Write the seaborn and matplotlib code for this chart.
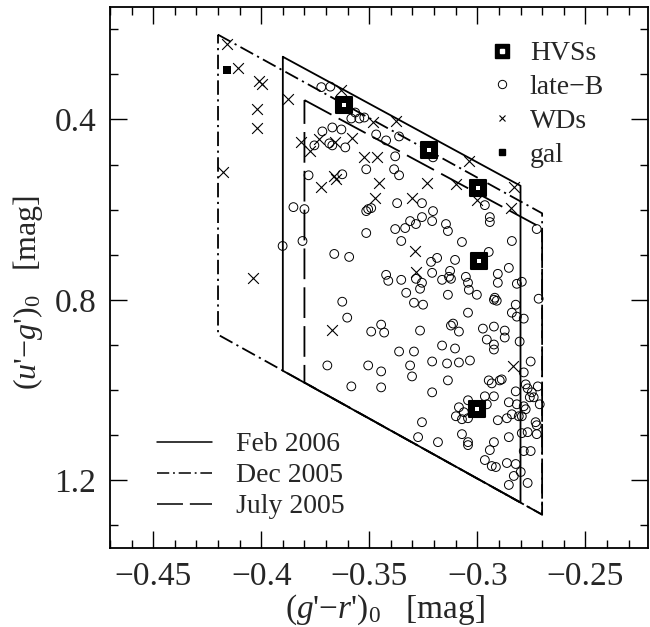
import matplotlib

matplotlib.use("Agg")
import matplotlib.pyplot as plt
import seaborn as sns
from matplotlib.lines import Line2D
from matplotlib.ticker import FixedLocator, MultipleLocator

# late-B candidates: (g'-r')0 and (u'-g')0
lateb_gr = [
    -0.3722, -0.3680, -0.3583, -0.3565, -0.3546, -0.3523, -0.3717, -0.3671, -0.3629, -0.3754,
    -0.3685, -0.3671, -0.3611, -0.3468, -0.3422, -0.3362, -0.3380, -0.3514, -0.3385, -0.3362,
    -0.3781, -0.3625, -0.3205, -0.3851, -0.3800, -0.3514, -0.3505, -0.3491, -0.3371, -0.3514,
    -0.3380, -0.3334, -0.3311, -0.3284, -0.3352, -0.3901, -0.3809, -0.3662, -0.3593, -0.3422,
    -0.3412, -0.3352, -0.3329, -0.3256, -0.3205, -0.3256, -0.3209, -0.3145, -0.3136, -0.2942,
    -0.2942, -0.2965, -0.3071, -0.2840, -0.2725, -0.3214, -0.3186, -0.3103, -0.2947, -0.2854,
    -0.3284, -0.3256, -0.3265, -0.3209, -0.3163, -0.3131, -0.3126, -0.3122, -0.3053, -0.3043,
    -0.3039, -0.3002, -0.3136, -0.2905, -0.2905, -0.2817, -0.2794, -0.2919, -0.2716, -0.3625,
    -0.3602, -0.3491, -0.3445, -0.3431, -0.3293, -0.3251, -0.3043, -0.2923, -0.2910, -0.2822,
    -0.2840, -0.2817, -0.2785, -0.3694, -0.3505, -0.3445, -0.3583, -0.3445, -0.3362, -0.3293,
    -0.3311, -0.3302, -0.3265, -0.3122, -0.3112, -0.3085, -0.2974, -0.2923, -0.2873, -0.2873,
    -0.2956, -0.2923, -0.2923, -0.2804, -0.3163, -0.3103, -0.3209, -0.3140, -0.3085, -0.3034,
    -0.3136, -0.2785, -0.2753, -0.2947, -0.2933, -0.2896, -0.2887, -0.3209, -0.2822, -0.2776,
    -0.2767, -0.2748, -0.2757, -0.2739, -0.2720, -0.2965, -0.2923, -0.2956, -0.3043, -0.2854,
    -0.2711, -0.3085, -0.3099, -0.3071, -0.3062, -0.3043, -0.2905, -0.2863, -0.2840, -0.2817,
    -0.2808, -0.2794, -0.2785, -0.2776, -0.2730, -0.2725, -0.3256, -0.3274, -0.3182, -0.3071,
    -0.3043, -0.3043, -0.2854, -0.2794, -0.2767, -0.2725, -0.2923, -0.2942, -0.2785, -0.2753,
    -0.2965, -0.2933, -0.2914, -0.2863, -0.2822, -0.2799, -0.2831, -0.2767, -0.2854,
]
lateb_ug = [
    0.3283, 0.3272, 0.3978, 0.3846, 0.3978, 0.3956, 0.4265, 0.4177, 0.4221, 0.4574,
    0.4530, 0.4574, 0.4619, 0.4332, 0.4464, 0.4376, 0.4817, 0.5104, 0.5104, 0.5237,
    0.5237, 0.5215, 0.4839, 0.5943, 0.5987, 0.6031, 0.5987, 0.5965, 0.5855, 0.6517,
    0.6429, 0.6407, 0.6252, 0.6318, 0.6694, 0.6804, 0.6694, 0.6981, 0.7047, 0.7444,
    0.7577, 0.7555, 0.7842, 0.5855, 0.6031, 0.6164, 0.6252, 0.6318, 0.6473, 0.6164,
    0.6274, 0.5899, 0.6716, 0.6694, 0.6429, 0.7157, 0.7069, 0.7113, 0.6937, 0.7290,
    0.7532, 0.7620, 0.7753, 0.7400, 0.7555, 0.7488, 0.7356, 0.7532, 0.7488, 0.7620,
    0.7775, 0.7886, 0.7886, 0.7422, 0.7620, 0.7643, 0.7598, 0.7952, 0.7974, 0.8040,
    0.8393, 0.8702, 0.8548, 0.8724, 0.8062, 0.8106, 0.8283, 0.7996, 0.8018, 0.8106,
    0.8283, 0.8371, 0.8415, 0.9453, 0.9453, 0.9585, 0.9917, 0.9939, 0.9144, 0.9144,
    0.9453, 0.9696, 0.8680, 0.8569, 0.8525, 0.8702, 0.8636, 0.8591, 0.8680, 0.8834,
    0.8879, 0.8989, 0.9100, 0.8923, 0.9011, 0.9077, 0.9365, 0.9409, 0.9387, 0.9343,
    0.9784, 0.9607, 0.9365, 0.9784, 0.9850, 0.9784, 0.9762, 1.0049, 1.0027, 0.9872,
    0.9961, 1.0049, 1.0159, 1.0159, 0.9917, 1.0137, 1.0137, 1.0314, 1.0225, 1.0269,
    1.0314, 1.0380, 1.0579, 1.0645, 1.0490, 1.0623, 1.0667, 1.0623, 1.0535, 1.0314,
    1.0579, 1.0579, 1.0358, 1.0424, 1.0711, 1.0778, 1.0711, 1.1042, 1.1153, 1.0976,
    1.1153, 1.1219, 1.1042, 1.0954, 1.0932, 1.0976, 1.1153, 1.1329, 1.1351, 1.1351,
    1.1550, 1.1683, 1.1705, 1.1616, 1.1638, 1.1815, 1.1903, 1.2058, 1.2102,
]

# white dwarfs
wd_gr = [
    -0.4160, -0.4109, -0.4012, -0.3998, -0.3878, -0.4021, -0.4021, -0.4178, -0.3629, -0.3818,
    -0.3772, -0.3731, -0.3657, -0.3578, -0.3482, -0.3375, -0.3523, -0.3463, -0.3662, -0.3652,
    -0.3722, -0.3454, -0.3472, -0.3302, -0.3039, -0.3233, -0.3099, -0.3002, -0.2831, -0.2845,
    -0.3288, -0.3284, -0.4040, -0.3671, -0.2836,
]
wd_ug = [
    0.2323, 0.2853, 0.3139, 0.3206, 0.3537, 0.3758, 0.4199, 0.5170, 0.3338, 0.4508,
    0.4707, 0.4442, 0.4508, 0.4420, 0.4067, 0.4023, 0.4839, 0.4839, 0.5259, 0.5325,
    0.5502, 0.5413, 0.5744, 0.5744, 0.4927, 0.5413, 0.5435, 0.5788, 0.5501, 0.5965,
    0.6914, 0.7378, 0.7510, 0.8658, 0.9475,
]

# hypervelocity stars and galaxy
hvs_gr = [-0.3615, -0.3223, -0.2995, -0.2993, -0.3002]
hvs_ug = [0.369, 0.467, 0.551, 0.714, 1.042]
gal_gr = [-0.416]
gal_ug = [0.290]

# colour-selection regions (closed outlines)
feb06_gr = [-0.39, -0.28, -0.28, -0.39, -0.39]
feb06_ug = [0.261, 0.547, 1.249, 0.957, 0.261]
dec05_gr = [-0.42, -0.27, -0.27, -0.42, -0.42]
dec05_ug = [0.212, 0.608, 1.276, 0.877, 0.212]
jul05_gr = [-0.38, -0.27, -0.27, -0.38, -0.38]
jul05_ug = [0.357, 0.641, 1.276, 0.983, 0.357]

x_ticks = [-0.45, -0.40, -0.35, -0.30, -0.25]
x_ticklabels = ["\u22120.45", "\u22120.4", "\u22120.35", "\u22120.3", "\u22120.25"]
y_ticks = [0.4, 0.8, 1.2]
y_ticklabels = ["0.4", "0.8", "1.2"]

sns.set_theme(style="ticks")
plt.rcParams["font.family"] = ["Liberation Serif", "DejaVu Serif"]
plt.rcParams["mathtext.fontset"] = "custom"
plt.rcParams["mathtext.rm"] = "Liberation Serif"
plt.rcParams["mathtext.it"] = "Liberation Serif:italic"

fig = plt.figure(figsize=(6.5, 6.27), dpi=100)
ax = fig.add_axes([0.1692, 0.1260, 0.8277, 0.8633])

DASHDOT = (0, (8, 2.5, 1.2, 2.5))
DASHED = (0, (17, 4.5))

ax.plot(feb06_gr, feb06_ug, color="black", lw=1.3, ls="-")
ax.plot(dec05_gr, dec05_ug, color="black", lw=1.3, ls=DASHDOT)
ax.plot(jul05_gr, jul05_ug, color="black", lw=1.3, ls=DASHED)

sns.scatterplot(x=lateb_gr, y=lateb_ug, marker="o", s=40, facecolors="none",
                edgecolors="black", linewidth=0.7, ax=ax, zorder=3)
sns.scatterplot(x=wd_gr, y=wd_ug, marker="x", s=60, color="black",
                linewidth=0.8, ax=ax, zorder=3)
sns.scatterplot(x=gal_gr, y=gal_ug, marker="s", s=28, color="black",
                linewidth=0, ax=ax, zorder=4)
sns.scatterplot(x=hvs_gr, y=hvs_ug, marker="s", s=140, color="black",
                edgecolor="black", linewidth=1.5, ax=ax, zorder=5)
sns.scatterplot(x=hvs_gr, y=hvs_ug, marker="s", s=12, color="white",
                linewidth=0, ax=ax, zorder=6)

ax.set_xlim(-0.47, -0.221)
ax.set_ylim(1.35, 0.15)

ax.xaxis.set_major_locator(FixedLocator(x_ticks))
ax.set_xticklabels(x_ticklabels)
ax.xaxis.set_minor_locator(MultipleLocator(0.01))
ax.yaxis.set_major_locator(FixedLocator(y_ticks))
ax.set_yticklabels(y_ticklabels)
ax.yaxis.set_minor_locator(MultipleLocator(0.1))

ax.tick_params(which="both", direction="in", top=True, right=True,
               color="black", width=1.0, labelsize=24, pad=10)
ax.tick_params(which="major", length=12)
ax.tick_params(which="minor", length=6)
for sp in ax.spines.values():
    sp.set_linewidth(1.3)
    sp.set_color("black")

ax.set_xlabel(r"($g$'$-r$')$_0$   [mag]", fontsize=24)
ax.set_ylabel(r"($u$'$-g$')$_0$   [mag]", fontsize=23)
ax.xaxis.set_label_coords(0.511, -0.082)
ax.yaxis.set_label_coords(-0.12, 0.473)

# legend for object classes
hvs_handle = (Line2D([], [], marker="s", ls="", color="black", markersize=10.5),
              Line2D([], [], marker="s", ls="", color="white", markersize=3))
obj_handles = [
    hvs_handle,
    Line2D([], [], marker="o", ls="", mfc="none", mec="black", markersize=6, mew=0.7),
    Line2D([], [], marker="x", ls="", color="black", markersize=5, mew=0.8),
    Line2D([], [], marker="s", ls="", color="black", markersize=4.5),
]
leg1 = ax.legend(obj_handles, ["HVSs", "late\u2212B", "WDs", "gal"],
                 loc="upper left", bbox_to_anchor=(0.703, 0.937), frameon=False,
                 fontsize=20, handlelength=1.0, handletextpad=0.5, labelspacing=0.3,
                 borderpad=0, borderaxespad=0)
ax.add_artist(leg1)

run_handles = [
    Line2D([], [], color="black", lw=1.1, ls="-"),
    Line2D([], [], color="black", lw=1.1, ls=DASHDOT),
    Line2D([], [], color="black", lw=1.1, ls=DASHED),
]
ax.legend(run_handles, ["Feb 2006", "Dec 2005", "July 2005"],
          loc="upper left", bbox_to_anchor=(0.087, 0.2146), frameon=False,
          fontsize=20, handlelength=2.0, handletextpad=0.85, labelspacing=0.2,
          borderpad=0, borderaxespad=0)

fig.savefig("out.png", dpi=100)
